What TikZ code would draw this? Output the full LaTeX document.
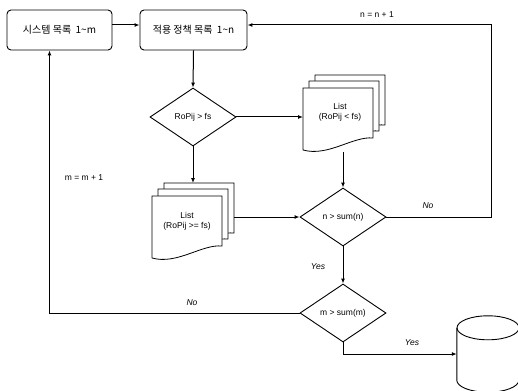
\documentclass[tikz,border=0pt]{standalone}
\usepackage{fontspec}
\setmainfont{Liberation Sans}
\newfontfamily\kr{Noto Sans CJK KR}
\usetikzlibrary{arrows.meta,shapes.geometric}

\tikzset{
  flow/.style={line width=1pt,-{Latex[length=5pt,width=4pt]}},
  stepbox/.style={draw,line width=0.9pt,rounded corners=4pt,minimum width=105pt,minimum height=40pt,inner sep=0pt,font=\kr\fontsize{10}{12}\selectfont},
  test/.style={draw,diamond,line width=0.9pt,minimum width=86pt,minimum height=58pt,inner sep=0pt,font=\fontsize{8.5}{10}\selectfont},
  lbl/.style={font=\fontsize{8.5}{10}\selectfont},
  ans/.style={font=\itshape\fontsize{8.5}{10}\selectfont},
  pagestack/.pic={
    \foreach \d/\e in {12/-13,6/-7,0/0}{
      \draw[fill=white,line width=0.8pt,shift={(\d,\e)}] (-35,31) -- (-35,-31) -- (35,-31) -- (35,19)
        .. controls (15,17) and (-10,38) .. (-35,31);
    }
    \coordinate (-w) at (-35,0);
    \coordinate (-e) at (47,0);
    \coordinate (-n) at (0,-44);
    \coordinate (-s) at (0,33);
  }
}

\begin{document}
\begin{tikzpicture}[x=1pt,y=-1pt]
\useasboundingbox (0,0) rectangle (518,390);

% process boxes
\node[stepbox] (sys) at (59.5,30) {시스템 목록 \ 1\textasciitilde m};
\node[stepbox,minimum width=107pt] (pol) at (193.5,30) {적용 정책 목록 \ 1\textasciitilde n};

% first test and the two lists
\node[test] (cmp) at (193,117) {RoPij > fs};
\pic (hi) at (338,119) {pagestack};
\node[lbl,align=center] (lsthi) at (340,112) {List\\(RoPij < fs)};
\pic (lo) at (187,227) {pagestack};
\node[lbl,align=center] (lstlo) at (187,221) {List\\(RoPij >= fs)};

% loop tests
\node[test] (endn) at (343,217) {n > sum(n)};
\node[test] (endm) at (343,313) {m > sum(m)};

% storage
\node[minimum width=62pt,minimum height=76pt,inner sep=0pt] (db) at (488,354) {};
\draw[line width=0.9pt] ([yshift=-12pt]db.north west) -- ([yshift=12pt]db.south west)
  arc[start angle=180,end angle=360,x radius=31pt,y radius=12pt] -- ([yshift=-12pt]db.north east);
\draw[line width=0.9pt] ([yshift=-12pt]db.north) ellipse[x radius=31pt,y radius=12pt];

\coordinate (rt) at (491,0);

\draw[flow] ([yshift=5pt]sys.east) -- ([yshift=5pt]pol.west);
\draw[flow] (pol.south) -- (cmp.north);
\draw[flow] (cmp.east) -- (cmp.east -| hi-w);
\draw[flow] (cmp.south) -- (cmp.south |- lo-n);
\draw[flow] (lo-e |- endn.west) -- (endn.west);
\draw[flow] (endn.north |- hi-s) -- (endn.north);
\draw[flow] (endn.east) -- (endn.east -| rt) |- ([yshift=5pt]pol.east);
\draw[flow] (endn.south) -- (endm.north);
\draw[flow] (endm.west) -| ([xshift=-10pt]sys.south);
\draw[flow] (endm.south) |- (db.west);

% labels
\node[lbl] (incn) at (377,15) {n = n + 1};
\node[lbl] (incm) at (84,178) {m = m + 1};
\node[ans] (non) at (428,206) {No};
\node[ans] (yesn) at (318,267) {Yes};
\node[ans] (nom) at (192,303) {No};
\node[ans] (yesm) at (412,343) {Yes};
\end{tikzpicture}
\end{document}
